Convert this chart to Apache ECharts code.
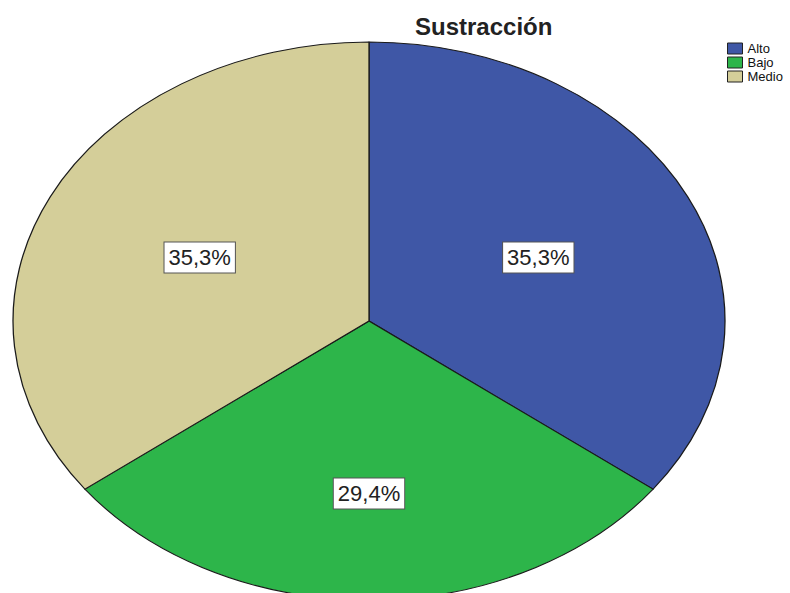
<!DOCTYPE html>
<html>
<head>
<meta charset="utf-8">
<script src="https://cdn.jsdelivr.net/npm/echarts@6/dist/echarts.min.js"></script>
<style>
html,body{margin:0;padding:0;width:790px;height:593px;overflow:hidden;background:#fff;}
#pie{position:absolute;left:0;top:0;width:790px;height:593px;transform-origin:369px 0;}
#top{position:absolute;left:0;top:0;width:790px;height:593px;}
</style>
</head>
<body>
<div id="pie"></div>
<div id="top"></div>
<script>
// ---- data ----
var categories = ['Alto', 'Bajo', 'Medio'];
var percents = [35.3, 29.4, 35.3];
var colors = ['#3F57A6', '#2DB54A', '#D4CE99'];
var titleText = 'Sustracción';

// ---- layout (ellipse: horizontal radius RX, vertical radius RY) ----
var CX = 369, CY = 321, RX = 356, RY = 279;
var SX = RX / RY;
var FONT = '"Liberation Sans", Arial, sans-serif';
// label placement factors (horizontal / vertical) and extra vertical nudge per slice
var KX = 1.04, KY = 1.0;
var labelNudgeY = { 'Bajo': 30 };

var pieData = categories.map(function (c, i) {
  return { name: c, value: percents[i], itemStyle: { color: colors[i] } };
});

document.getElementById('pie').style.transform = 'scaleX(' + SX + ')';

var pieChart = echarts.init(document.getElementById('pie'), null, { renderer: 'svg' });
pieChart.setOption({
  animation: false,
  series: [{
    type: 'pie',
    silent: true,
    center: [CX, CY],
    radius: [0, RY],
    startAngle: 90,
    clockwise: true,
    label: { show: false },
    labelLine: { show: false },
    itemStyle: { borderColor: '#1a1a1a', borderWidth: 1 },
    data: pieData
  }]
});

var topChart = echarts.init(document.getElementById('top'), null, { renderer: 'svg' });
topChart.setOption({
  animation: false,
  title: {
    text: titleText,
    left: 415,
    top: 14,
    padding: 0,
    textStyle: { fontFamily: FONT, fontSize: 24, fontWeight: 'bold', color: '#222' }
  },
  legend: {
    orient: 'vertical',
    left: 727,
    top: 42,
    padding: 0,
    itemWidth: 15,
    itemHeight: 11,
    itemGap: 1,
    icon: 'rect',
    selectedMode: false,
    textStyle: { fontFamily: FONT, fontSize: 13, lineHeight: 13, color: '#111' },
    data: categories.map(function (c, i) {
      return { name: c, itemStyle: { color: colors[i], borderColor: '#222', borderWidth: 1 } };
    })
  },
  series: [{
    type: 'pie',
    silent: true,
    center: [CX, CY],
    radius: [0, RY],
    startAngle: 90,
    clockwise: true,
    emphasis: { disabled: true },
    itemStyle: { color: 'rgba(0,0,0,0)', borderWidth: 0 },
    labelLine: { show: false },
    label: {
      show: true,
      position: 'inside',
      fontFamily: FONT,
      fontSize: 22,
      color: '#222',
      backgroundColor: '#fff',
      borderColor: '#555',
      borderWidth: 1,
      padding: [4, 4, 4, 4],
      formatter: function (p) { return p.value.toFixed(1).replace('.', ',') + '%'; }
    },
    labelLayout: function (p) {
      var r = p.labelRect;
      var lx = r.x + r.width / 2, ly = r.y + r.height / 2;
      var nudge = labelNudgeY[categories[p.dataIndex]] || 0;
      return { x: CX + (lx - CX) * SX * KX, y: CY + (ly - CY) * KY + nudge };
    },
    data: categories.map(function (c, i) {
      return { name: c, value: percents[i] };
    })
  }]
});
</script>
</body>
</html>
